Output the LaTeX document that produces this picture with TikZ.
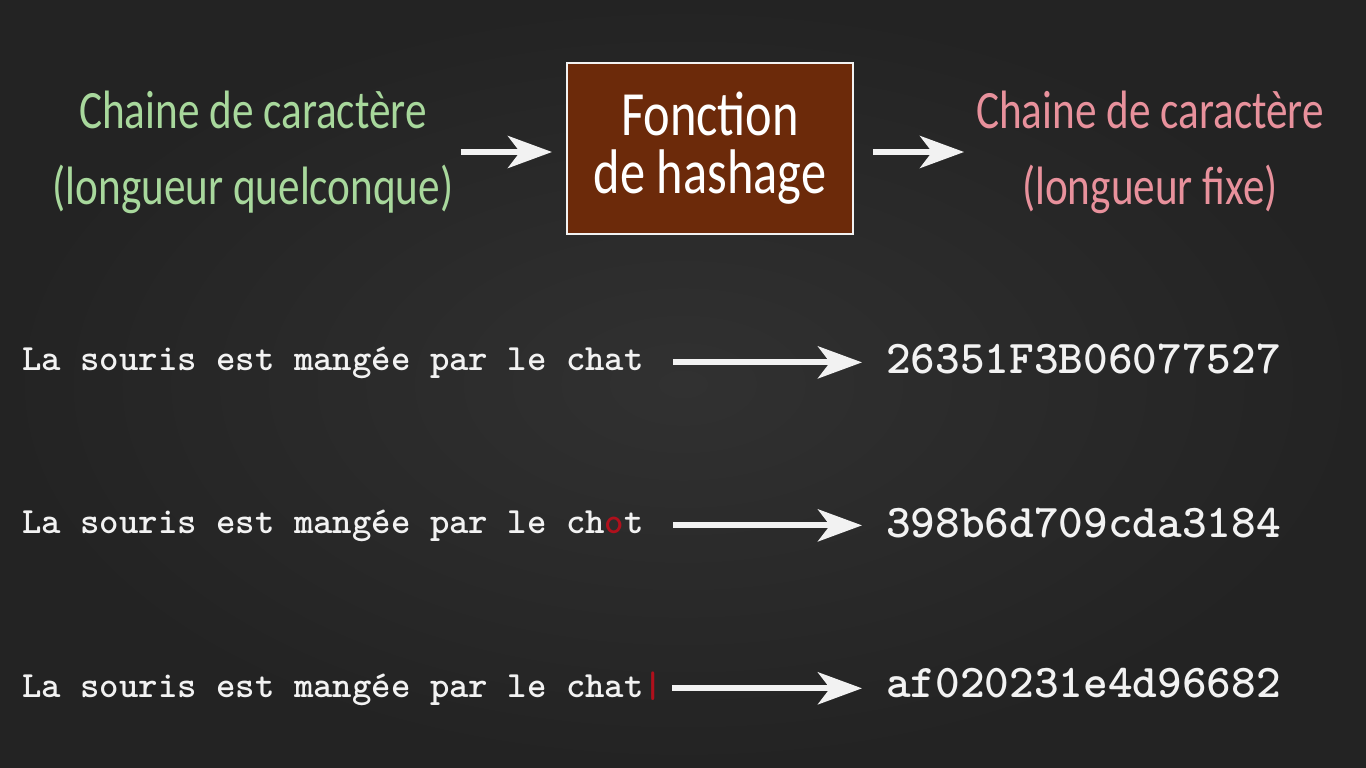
\documentclass[tikz,border=0pt]{standalone}
\usepackage{fontspec}
\usepackage{xcolor}
\usepackage{tikz}
\usetikzlibrary{arrows.meta}
\usetikzlibrary{positioning}
\newfontfamily\chalk[FakeStretch=0.8]{Carlito}
\definecolor{board}{HTML}{2B2B2B}
\definecolor{boardlight}{HTML}{313131}
\definecolor{boarddark}{HTML}{232323}
\definecolor{chalkgreen}{HTML}{A8D89C}
\definecolor{chalkpink}{HTML}{E8919C}
\definecolor{chalkred}{HTML}{B0101C}
\definecolor{hashbrown}{HTML}{6C2A0A}
\definecolor{chalkwhite}{HTML}{F2F2F2}
\tikzstyle{hashbox} = [draw=chalkwhite, fill=hashbrown, line width=2pt,
rectangle, minimum width=286pt, minimum height=171pt, text=white,
align=center, font=\chalk\fontsize{63}{58}\selectfont]
\tikzstyle{chalktext} = [align=center, inner sep=0pt,
font=\chalk\fontsize{54}{76}\selectfont]
\tikzstyle{sentence} = [anchor=base west, inner sep=0pt, text=chalkwhite,
font=\ttfamily\bfseries\fontsize{37}{37}\selectfont]
\tikzstyle{hashvalue} = [anchor=base west, inner sep=0pt, text=chalkwhite,
font=\ttfamily\bfseries\fontsize{47}{47}\selectfont]
\tikzstyle{bigarrow} = [draw=chalkwhite, line width=6pt,
-{Stealth[length=44pt, width=32pt, inset=12pt]}]

\begin{document}
\begin{tikzpicture}[x=1pt, y=-1pt]
    \shade[inner color=boardlight, outer color=boarddark] (0,0) rectangle (1366,768);
    % hash function and its in/out strings
    \node [hashbox] (hash) at (710,148.5) {Fonction\\de hashage};
    \node [chalktext, text=chalkgreen] (inleft) at (253,152)
        {Chaine de caractère\\(longueur quelconque)};
    \node [chalktext, text=chalkpink] (outright) at (1150,152)
        {Chaine de caractère\\(longueur fixe)};
    \draw [bigarrow, shorten <=7pt, shorten >=14pt]
        (inleft.east) -- (inleft.east -| hash.west);
    \draw [bigarrow, shorten <=19pt, shorten >=12pt]
        (hash.east |- outright.west) -- (outright.west);
    % examples
    \node [sentence] (s1) at (22,370) {La souris est mangée par le chat};
    \node [sentence] (s2) at (22,533) {La souris est mangée par le ch\textcolor{chalkred}{o}t};
    \node [sentence] (s3) at (22,697) {La souris est mangée par le chat\textcolor{chalkred}{|}};
    \node [hashvalue] (h1) at (886,373) {26351F3B06077527};
    \node [hashvalue] (h2) at (886,537) {398b6d709cda3184};
    \node [hashvalue] (h3) at (886,697) {af020231e4d96682};
    \draw [bigarrow, shorten <=29pt, shorten >=24pt] (s1.east) -- (s1.east -| h1.west);
    \draw [bigarrow, shorten <=29pt, shorten >=24pt] (s2.east) -- (s2.east -| h2.west);
    \draw [bigarrow, shorten <=9pt, shorten >=24pt] (s3.east) -- (s3.east -| h3.west);
\end{tikzpicture}
\end{document}
